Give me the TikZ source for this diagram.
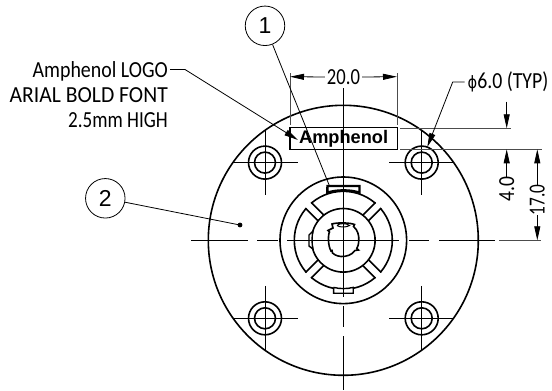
\documentclass[tikz,border=0pt]{standalone}
\usepackage{fontspec}
\setmainfont{Carlito}
\newfontfamily\arialb{Liberation Sans}
\usetikzlibrary{arrows.meta,calc}
\tikzset{
  thin line/.style={line width=0.8pt,black},
  thick line/.style={line width=1.6pt,black},
  ext line/.style={line width=0.9pt,black!70},
  centre line/.style={line width=0.9pt,black},
  dimtip/.style={-{Triangle[length=14pt,width=6pt]}},
  lab/.style={inner sep=0pt,font=\fontsize{23}{23}\selectfont},
  balloon/.style={circle,draw,line width=0.8pt,minimum size=39.5pt,inner sep=0pt,font=\arialb\fontsize{23}{23}\selectfont},
}
\newcommand{\squeeze}[2]{\scalebox{#1}[1]{#2}}
\begin{document}
\begin{tikzpicture}[x=1pt,y=-1pt]
\useasboundingbox (0,0) rectangle (552,391);
\coordinate (C) at (343.3,240.3);
% plate
\node[circle,draw,thick line,minimum size=270pt,inner sep=0pt] (plate) at (C) {};
% centre lines
\draw[centre line] (191,240.3)--(248,240.3) (257,240.3)--(278,240.3) (287,240.3)--(399,240.3)
  (409,240.3)--(429,240.3) (439,240.3)--(495,240.3);
\draw[centre line] (343.3,88)--(343.3,297) (343.3,306)--(343.3,327) (343.3,336)--(343.3,390);
% holes
\foreach \n/\x/\y in {tl/265/162.6,tr/421.7/162.6,bl/265/318.3,br/421.7/318.3}{
  \coordinate (h\n) at (\x,\y);
  \draw[thick line] (h\n) circle[radius=16.5] (h\n) circle[radius=10.5];
  \draw[centre line] ($(h\n)+(-32.5,0)$)--($(h\n)+(32.5,0)$) ($(h\n)+(0,-32.5)$)--($(h\n)+(0,32)$);
}
% connector body
\draw[thick line] (C) circle[radius=63.3];
\draw[thick line] (C) circle[radius=49];
\draw[thick line] (C) circle[radius=31.8];
\foreach \a in {45,135,225,315}{
  \begin{scope}[shift={(C)},rotate=\a]
    \fill[white] (33,-3.2) rectangle (50.5,3.2);
    \draw[thick line] (31.8,-4)--(49.5,-4) (31.8,4)--(49.5,4);
  \end{scope}
}
% top tab
\draw[line width=3pt] (327.5,193.5)--(327.5,186.5);
\draw[line width=2.2pt,fill=white] (327.5,186)--(359.5,186)--(359.5,192.5) .. controls (350,189.5) and (337,189.5) .. (327.5,192.5) -- cycle;
\draw[centre line] (343.3,183)--(343.3,195);
% bottom tab
\draw[line width=1.4pt,fill=white] (333.6,287.4)--(333.6,293.2)--(353.2,293.2)--(353.2,287.4) .. controls (347,289) and (340,289) .. (333.6,287.4);
\draw[centre line] (343.3,285)--(343.3,297);
% left tab
\draw[line width=1.4pt,fill=white] (313,231)--(309,235)--(309,246)--(313,249) .. controls (311.7,243) and (311.7,237) .. (313,231);
\draw[centre line] (305,240.3)--(316,240.3);
% keyed bore
\draw[thick line] (332,224) .. controls (336,222.5) and (350,222.5) .. (354.5,224.5)
  -- (353.5,226.5) .. controls (358,230) and (359,236) .. (358.8,240) .. controls (358.6,244) and (358,247) .. (356.8,248.5)
  -- (358.5,250) -- (355,250.5) .. controls (352,255) and (346,256.8) .. (341,256.5) .. controls (336,256) and (333.5,254) .. (332.5,253)
  -- (332,250.5) -- (331,251) .. controls (328,246) and (327.8,235) .. (329.5,232)
  -- (328,230.5) -- (333,228) -- cycle;
\draw[line width=1pt,fill=white] (337,225.5) .. controls (339,223) and (347,223) .. (349.5,225.5) .. controls (347,227.5) and (339,227.5) .. (337,225.5);
\draw[centre line] (343.3,220)--(343.3,232);
% logo
\node[draw,line width=1.3pt,minimum width=107.3pt,minimum height=21.6pt,inner sep=0pt,fill=none] (logo) at (343.6,138.5) {\arialb\bfseries\fontsize{18.2}{18.2}\selectfont Amphenol};
% 20.0 dimension
\coordinate (ext20l) at (290,73);\coordinate (ext20lb) at (290,125);
\coordinate (ext20r) at (397,73);\coordinate (ext20rb) at (397,125);
\draw[ext line] (ext20l)--(ext20lb) (ext20r)--(ext20rb);
\node[lab] (d20) at (343.5,77) {\squeeze{0.81}{20.0}};
\draw[thin line,dimtip] (d20.west)++(-2,0)--(290,76.7);
\draw[thin line,dimtip] (d20.east)++(2,0)--(397,76.7);
% extension lines right
\draw[ext line] (400,128.3)--(510.7,128.3) (400,149.3)--(541.7,149.3);
\draw[ext line] (499,240.3)--(541,240.3);
% 4.0
\coordinate (t4) at (506.7,128.3);\coordinate (b4) at (506.7,149.3);
\coordinate (t4s) at (506.7,101.7);
\node[lab,rotate=90] (d4) at (506.7,189) {\squeeze{0.85}{4.0}};
\draw[thin line,dimtip] (t4s)--(t4);
\draw[thin line,dimtip] (506.7,176.5)--(b4);
% 17.0
\coordinate (t17) at (537.3,149.3);\coordinate (b17) at (537.3,240.3);
\node[lab,rotate=90] (d17) at (537.3,200) {\squeeze{0.75}{17.0}};
\draw[thin line,dimtip] (537.3,185)--(t17);
\draw[thin line,dimtip] (537.3,215)--(b17);
% phi
\node[lab,anchor=west] (phi) at (467.5,82) {\squeeze{0.86}{\fontspec{DejaVu Sans}\fontsize{17}{17}\selectfont ϕ\fontspec{Carlito}\fontsize{23}{23}\selectfont 6.0 (TYP)}};
\coordinate (phik) at (452.7,82);
\coordinate (phit) at (427.3,147);
\draw[thin line,dimtip] (phi.west)++(-3,0)--(phik)--(phit);
% left note
\node[lab,anchor=base east] (note1) at (168,77) {\squeeze{0.866}{Amphenol LOGO}};
\node[lab,anchor=base east] (note2) at (168,102) {\squeeze{0.94}{ARIAL BOLD FONT}};
\node[lab,anchor=base east] (note3) at (168,127.7) {\squeeze{0.83}{2.5mm HIGH}};
\coordinate (nk) at (185,69.5);
\coordinate (nt) at (298,140);
\draw[thin line,dimtip] (170,69.5)--(nk)--(nt);
% balloons
\node[balloon] (b1) at (265,25.8) {1};
\node[balloon] (b2) at (105.3,198.3) {2};
\coordinate (b1end) at (329.5,186);
\coordinate (dot) at (240,225);
\draw[thin line] (b1)--(b1end);
\draw[thin line] (b2)--(dot);
\fill (dot) circle[radius=2.4];
\end{tikzpicture}
\end{document}
